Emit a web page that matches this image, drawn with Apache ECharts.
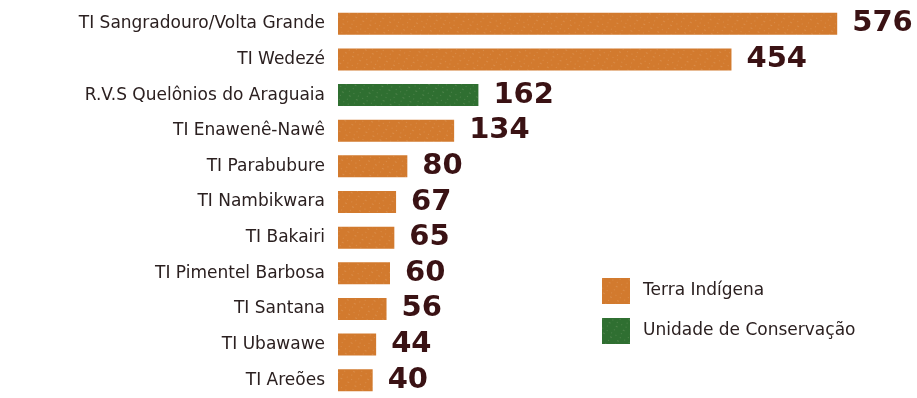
<!DOCTYPE html>
<html>
<head>
<meta charset="utf-8">
<script src="https://cdn.jsdelivr.net/npm/echarts@6/dist/echarts.min.js"></script>
<style>
  html, body { margin: 0; padding: 0; background: #fff; }
  #chart { width: 917px; height: 398px; }
</style>
</head>
<body>
<div id="chart"></div>
<script>
// dados
const categorias = [
  'TI Sangradouro/Volta Grande',
  'TI Wedezé',
  'R.V.S Quelônios do Araguaia',
  'TI Enawenê-Nawê',
  'TI Parabubure',
  'TI Nambikwara',
  'TI Bakairi',
  'TI Pimentel Barbosa',
  'TI Santana',
  'TI Ubawawe',
  'TI Areões'
];
const terraIndigena = [576, 454, '-', 134, 80, 67, 65, 60, 56, 44, 40];
const unidadeConservacao = ['-', '-', 162, '-', '-', '-', '-', '-', '-', '-', '-'];

const laranja = '#d27a2e';
const verde = '#2f6f31';
const marrom = '#3a1214';

// salpicado claro por cima das barras
const textura = {
  symbol: 'rect',
  symbolSize: 0.6,
  color: 'rgba(255,240,220,0.5)',
  dashArrayX: [[1, 4], [2, 6], [1, 7]],
  dashArrayY: [1, 3],
  rotation: 0.5
};

const rotulo = {
  show: true,
  position: 'right',
  distance: 15,
  fontFamily: 'DejaVu Sans',
  fontWeight: 'bold',
  fontSize: 29,
  color: marrom
};

const chart = echarts.init(document.getElementById('chart'));

chart.setOption({
  backgroundColor: '#fff',
  animation: false,
  grid: { left: 338, right: 59, top: 6, bottom: -5 },
  legend: {
    orient: 'vertical',
    left: 602,
    top: 278,
    padding: 0,
    itemWidth: 28,
    itemHeight: 26,
    itemGap: 14,
    icon: 'rect',
    textStyle: { fontFamily: 'DejaVu Sans', fontSize: 17, color: '#2b2020', padding: [0, 0, 0, 8] },
    data: ['Terra Indígena', 'Unidade de Conservação']
  },
  xAxis: { type: 'value', min: 0, max: 600, show: false },
  yAxis: {
    type: 'category',
    inverse: true,
    data: categorias,
    axisLine: { show: false },
    axisTick: { show: false },
    axisLabel: { margin: 13, fontFamily: 'DejaVu Sans', fontSize: 17, color: '#2b2020' }
  },
  series: [
    {
      name: 'Terra Indígena',
      type: 'bar',
      stack: 'total',
      barWidth: 22,
      data: terraIndigena,
      itemStyle: { color: laranja, decal: textura },
      label: rotulo
    },
    {
      name: 'Unidade de Conservação',
      type: 'bar',
      stack: 'total',
      barWidth: 22,
      data: unidadeConservacao,
      itemStyle: { color: verde, decal: textura },
      label: rotulo
    }
  ]
});
</script>
</body>
</html>
